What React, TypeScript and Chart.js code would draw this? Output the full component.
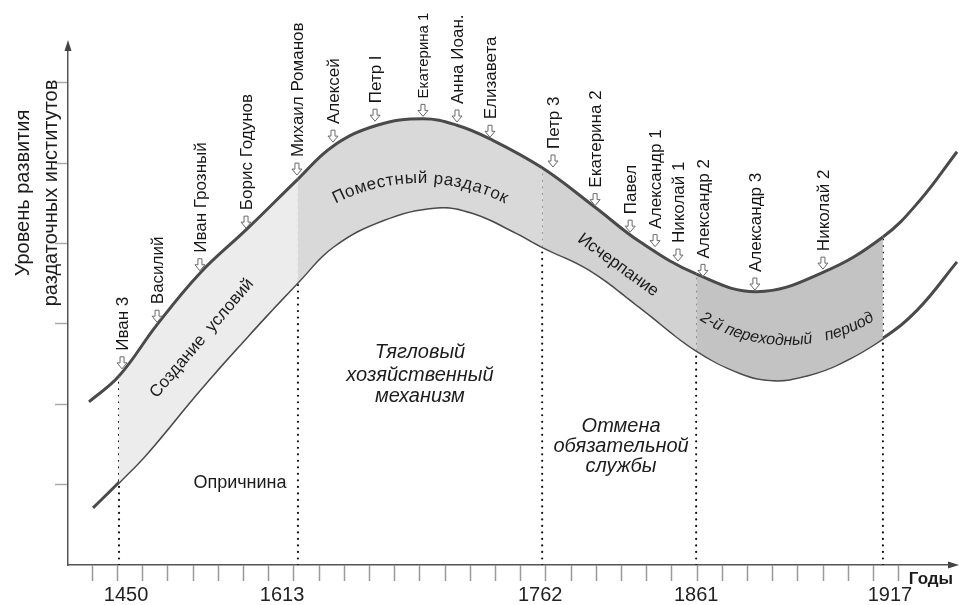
import React, { useEffect, useRef } from 'react';
import { Chart, registerables } from 'chart.js';

Chart.register(...registerables);

// x: schematic time position (one unit = one small tick on the axis), y: level of the institutions
const upperX = [-0.13, 1.06, 2.57, 4.27, 6.14, 8.16, 9.55, 11.3, 13.12, 14.47, 15.78, 17.85, 19.95, 21.73, 23.96, 26.37, 28.99, 31.37, 32.85, 34.31];
const upperY = [2.03, 2.35, 2.99, 3.63, 4.18, 4.8, 5.21, 5.47, 5.55, 5.47, 5.3, 4.94, 4.45, 4.02, 3.62, 3.4, 3.64, 4.08, 4.54, 5.14];
const lowerX = [0.03, 1.06, 2.17, 4.27, 6.14, 8.16, 9.55, 11.53, 13.68, 15.11, 16.85, 17.85, 19.75, 21.73, 23.96, 25.7, 27.01, 28.36, 29.67, 31.37, 32.73, 34.31];
const lowerY = [0.71, 1.03, 1.39, 2.18, 2.84, 3.52, 3.96, 4.29, 4.45, 4.38, 4.13, 3.96, 3.67, 3.21, 2.67, 2.39, 2.3, 2.36, 2.51, 2.82, 3.17, 3.77];

// era boundaries (dotted lines) and year labels
const eraYears = ['1450', '1613', '1762', '1861', '1917'];
const eraX = [1.06, 8.16, 17.85, 23.96, 31.37];
const eraTop = [2.35, 4.8, 4.94, 3.62, 4.08];
const yearLabelX = [1.34, 7.53, 17.77, 23.96, 31.65];
const eraFills = ['#ececec', '#d9d9d9', '#d2d2d2', '#c3c3c3'];

// axis ticks
const xTicks = Array.from({ length: 33 }, (_, i) => i);
const yTicks = [1, 2, 3, 4, 5, 6];

// rulers (arrow marks on the upper curve)
const rulerNames = ['Иван 3', 'Василий', 'Иван Грозный', 'Борис Годунов', 'Михаил Романов', 'Алексей', 'Петр I', 'Екатерина 1', 'Анна Иоан.', 'Елизавета', 'Петр 3', 'Екатерина 2', 'Павел', 'Александр 1', 'Николай 1', 'Александр 2', 'Александр 3', 'Николай 2'];
const rulerX = [1.18, 2.57, 4.27, 6.1, 8.12, 9.55, 11.22, 13.12, 14.47, 15.78, 18.28, 19.95, 21.34, 22.33, 23.24, 24.23, 26.29, 28.99];
const rulerY = [2.44, 3.02, 3.66, 4.19, 4.85, 5.26, 5.52, 5.58, 5.51, 5.32, 4.95, 4.47, 4.14, 3.96, 3.78, 3.59, 3.42, 3.68];

const FONT = "'Liberation Sans', Arial, sans-serif";

function arcText(ctx: CanvasRenderingContext2D, text: string, cx: number, cy: number, r: number, top: boolean, spacing: number) {
  const chars = Array.from(text);
  const widths = chars.map((c) => ctx.measureText(c).width + spacing);
  const total = widths.reduce((a, b) => a + b, 0);
  ctx.textAlign = 'center';
  ctx.textBaseline = 'alphabetic';
  if (top) {
    let a = -Math.PI / 2 - total / (2 * r);
    chars.forEach((ch, i) => {
      const mid = a + widths[i] / (2 * r);
      ctx.save();
      ctx.translate(cx + r * Math.cos(mid), cy + r * Math.sin(mid));
      ctx.rotate(mid + Math.PI / 2);
      ctx.fillText(ch, 0, 0);
      ctx.restore();
      a += widths[i] / r;
    });
  } else {
    let a = Math.PI / 2 + total / (2 * r);
    chars.forEach((ch, i) => {
      const mid = a - widths[i] / (2 * r);
      ctx.save();
      ctx.translate(cx + r * Math.cos(mid), cy + r * Math.sin(mid));
      ctx.rotate(mid - Math.PI / 2);
      ctx.fillText(ch, 0, 0);
      ctx.restore();
      a -= widths[i] / r;
    });
  }
}

const decorPlugin = {
  id: 'decor',
  afterDatasetsDraw(chart: any) {
    const ctx: CanvasRenderingContext2D = chart.ctx;
    const xs = chart.scales.x;
    const ys = chart.scales.y;
    const X = (u: number) => xs.getPixelForValue(u);
    const Y = (v: number) => ys.getPixelForValue(v);
    ctx.save();
    // ruler arrows and names
    rulerNames.forEach((name, i) => {
      const px = X(rulerX[i]);
      const py = Y(rulerY[i]);
      ctx.beginPath();
      ctx.moveTo(px, py);
      ctx.lineTo(px - 5, py - 6);
      ctx.lineTo(px - 2, py - 6);
      ctx.lineTo(px - 2, py - 12);
      ctx.lineTo(px + 2, py - 12);
      ctx.lineTo(px + 2, py - 6);
      ctx.lineTo(px + 5, py - 6);
      ctx.closePath();
      ctx.fillStyle = '#ffffff';
      ctx.fill();
      ctx.strokeStyle = '#6a6a6a';
      ctx.lineWidth = 1;
      ctx.stroke();
      ctx.save();
      ctx.translate(px + 1, py - 18);
      ctx.rotate(-Math.PI / 2);
      ctx.fillStyle = '#161616';
      ctx.font = name === 'Екатерина 1' ? `15px ${FONT}` : `17px ${FONT}`;
      ctx.textAlign = 'left';
      ctx.textBaseline = 'middle';
      ctx.fillText(name, 0, 0);
      ctx.restore();
    });

    ctx.fillStyle = '#1c1c1c';
    // rotated band labels
    const rot = (text: string, u: number, v: number, deg: number, font: string) => {
      ctx.save();
      ctx.translate(X(u), Y(v));
      ctx.rotate((deg * Math.PI) / 180);
      ctx.font = font;
      ctx.textAlign = 'center';
      ctx.textBaseline = 'middle';
      ctx.fillText(text, 0, 0);
      ctx.restore();
    };
    rot('Создание  условий', 4.35, 2.82, -49.7, `17px ${FONT}`);
    rot('Исчерпание', 20.86, 3.73, 36, `17px ${FONT}`);

    ctx.font = `17px ${FONT}`;
    arcText(ctx, 'Поместный раздаток', X(13.01), Y(2.45), 185, true, 0.6);
    ctx.font = `italic 16px ${FONT}`;
    arcText(ctx, '2-й переходный   период', X(27.57), Y(4.8), 166, false, 0);

    const lines = (arr: string[], u: number, vs: number[], font: string) => {
      ctx.font = font;
      ctx.textAlign = 'center';
      ctx.textBaseline = 'middle';
      arr.forEach((t, k) => ctx.fillText(t, X(u), Y(vs[k])));
    };
    lines(['Тягловый', 'хозяйственный', 'механизм'], 13.0, [2.64, 2.36, 2.1], `italic 20px ${FONT}`);
    lines(['Отмена', 'обязательной', 'службы'], 20.98, [1.72, 1.47, 1.22], `italic 20px ${FONT}`);
    lines(['Опричнина'], 5.86, [1.02], `18px ${FONT}`);
    ctx.restore();
  },
  afterDraw(chart: any) {
    const ctx: CanvasRenderingContext2D = chart.ctx;
    const { left, right, top, bottom } = chart.chartArea;
    ctx.save();
    ctx.fillStyle = '#444';
    // axis arrows
    ctx.beginPath();
    ctx.moveTo(left, top - 5);
    ctx.lineTo(left - 3.5, top + 6);
    ctx.lineTo(left + 3.5, top + 6);
    ctx.closePath();
    ctx.fill();
    ctx.beginPath();
    ctx.moveTo(right + 4, bottom);
    ctx.lineTo(right - 7, bottom - 3.5);
    ctx.lineTo(right - 7, bottom + 3.5);
    ctx.closePath();
    ctx.fill();
    // axis titles
    ctx.fillStyle = '#1c1c1c';
    ctx.font = `bold 17px ${FONT}`;
    ctx.textAlign = 'center';
    ctx.textBaseline = 'middle';
    ctx.fillText('Годы', 931, 579);
    ctx.font = `20px ${FONT}`;
    const titleLines = ['Уровень развития', 'раздаточных институтов'];
    titleLines.forEach((t, k) => {
      ctx.save();
      ctx.translate(23 + k * 28, 193);
      ctx.rotate(-Math.PI / 2);
      ctx.fillText(t, 0, 0);
      ctx.restore();
    });
    ctx.restore();
  },
};

export default function App() {
  const ref = useRef<HTMLCanvasElement | null>(null);
  useEffect(() => {
    if (!ref.current) return;
    const segFill = (c: any) => {
      const x0 = c.p0.parsed.x;
      for (let k = 0; k < eraX.length - 1; k++) {
        if (x0 >= eraX[k] - 1e-6 && x0 < eraX[k + 1] - 1e-6) return eraFills[k];
      }
      return 'rgba(0,0,0,0)';
    };
    const dotted = eraX.map((x, k) => ({
      data: [{ x, y: 0 }, { x, y: eraTop[k] }],
      borderColor: '#111',
      borderWidth: 2.2,
      borderDash: [0.01, 6.5],
      borderCapStyle: 'round' as const,
      pointRadius: 0,
      fill: false,
      tension: 0,
    }));
    const allXTicks = [...xTicks, ...yearLabelX].sort((a, b) => a - b);
    const chart = new Chart(ref.current, {
      type: 'line',
      data: {
        datasets: [
          {
            label: 'upper',
            data: upperX.map((x, i) => ({ x, y: upperY[i] })),
            borderColor: '#4a4a4a',
            borderWidth: 3,
            pointRadius: 0,
            tension: 0.4,
            fill: '+1',
            backgroundColor: 'rgba(0,0,0,0)',
            segment: { backgroundColor: segFill },
            clip: false,
          } as any,
          {
            label: 'lower',
            data: lowerX.map((x, i) => ({ x, y: lowerY[i] })),
            borderColor: '#4a4a4a',
            borderWidth: 3,
            pointRadius: 0,
            tension: 0.4,
            fill: false,
            clip: false,
          } as any,
          ...(dotted as any[]),
        ],
      },
      options: {
        animation: false,
        responsive: false,
        events: [],
        layout: { padding: { left: 55, top: 45, right: 5, bottom: -4 } },
        plugins: { legend: { display: false }, tooltip: { enabled: false } },
        scales: {
          x: {
            type: 'linear',
            min: -0.964,
            max: 34.23,
            afterBuildTicks: (s: any) => {
              s.ticks = allXTicks.map((v) => ({ value: v }));
            },
            ticks: {
              autoSkip: false,
              maxRotation: 0,
              padding: 2,
              color: '#222',
              font: { family: FONT, size: 20, lineHeight: 1.2 },
              callback: (v: any) => {
                const k = yearLabelX.indexOf(v);
                return k >= 0 ? eraYears[k] : '';
              },
            },
            grid: {
              drawOnChartArea: false,
              drawTicks: true,
              tickLength: 16,
              tickWidth: 1.5,
              tickColor: (c: any) => (c.tick && Number.isInteger(c.tick.value) ? '#9a9a9a' : 'rgba(0,0,0,0)'),
            },
            border: { display: true, color: '#555', width: 1.5 },
          },
          y: {
            type: 'linear',
            min: 0,
            max: 6.468,
            afterBuildTicks: (s: any) => {
              s.ticks = yTicks.map((v) => ({ value: v }));
            },
            ticks: { display: false },
            grid: { drawOnChartArea: false, drawTicks: true, tickLength: 13, tickWidth: 1.5, tickColor: '#aaa' },
            border: { display: true, color: '#555', width: 1.5 },
          },
        },
      } as any,
      plugins: [decorPlugin],
    });
    return () => chart.destroy();
  }, []);
  return (
    <div style={{ position: 'absolute', left: 0, top: 0, width: 960, height: 605, background: '#fff' }}>
      <canvas ref={ref} width={960} height={605} style={{ display: 'block' }} />
    </div>
  );
}
